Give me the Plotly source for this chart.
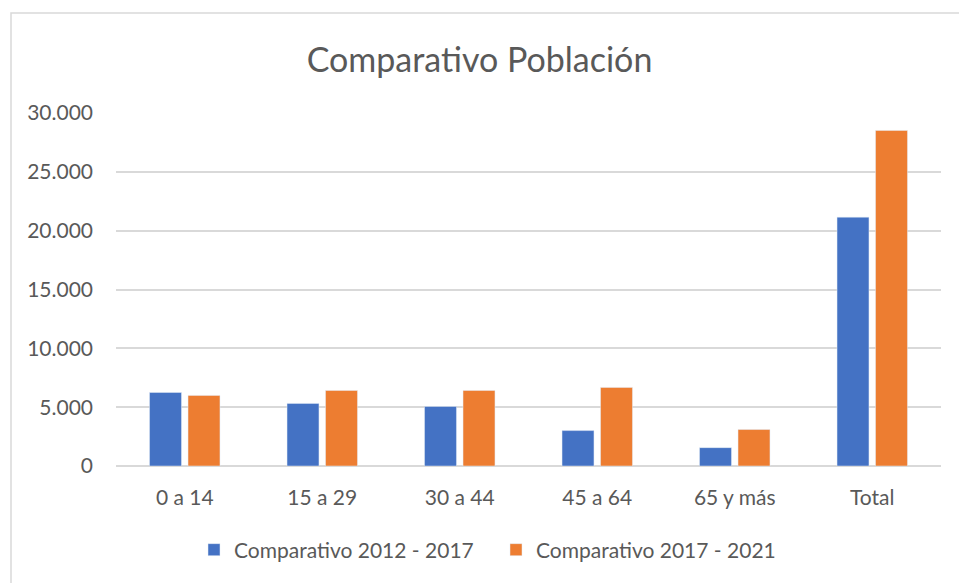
import plotly.graph_objects as go

categories = ["0 a 14", "15 a 29", "30 a 44", "45 a 64", "65 y más", "Total"]
serie_2012_2017 = [6250, 5320, 5060, 3010, 1560, 21150]
serie_2017_2021 = [6000, 6420, 6420, 6680, 3100, 28520]
tick_vals = [0, 5000, 10000, 15000, 20000, 25000, 30000]
tick_text = ["0", "5.000", "10.000", "15.000", "20.000", "25.000", "30.000"]

FONT = "Lato"
GRAY = "#595959"

fig = go.Figure()
fig.add_trace(go.Bar(x=categories, y=serie_2012_2017, name="Comparativo 2012 - 2017",
                     marker_color="#4472C4"))
fig.add_trace(go.Bar(x=categories, y=serie_2017_2021, name="Comparativo 2017 - 2021",
                     marker_color="#ED7D31"))

L, R, T, B = 116, 18, 113, 117
W, H = 959, 583
pw = W - L - R
ph = H - T - B

fig.update_layout(
    width=W, height=H,
    margin=dict(l=L, r=R, t=T, b=B),
    paper_bgcolor="white", plot_bgcolor="white",
    barmode="group", bargap=0.44, bargroupgap=0.17,
    title=dict(text="Comparativo Población", x=0.5, xanchor="center",
               y=1 - 60 / H, yanchor="middle",
               font=dict(family=FONT, size=34, color=GRAY)),
    font=dict(family=FONT, color=GRAY, size=21),
    showlegend=True,
    legend=dict(orientation="h", x=(194 - L) / pw, xanchor="left",
                y=-(550 - (H - B)) / ph,
                yanchor="middle", font=dict(family=FONT, size=21, color=GRAY),
                itemwidth=30, traceorder="normal",
                entrywidth=257, entrywidthmode="pixels"),
    shapes=[dict(type="rect", xref="paper", yref="paper",
                 x0=(11 - L) / pw, x1=(W + 5 - L) / pw,
                 y0=-(H + 5 - (H - B)) / ph, y1=((H - B) - 13) / ph,
                 line=dict(color="#D9D9D9", width=1.5), layer="below")],
)
fig.update_yaxes(range=[0, 30000], tickvals=tick_vals, ticktext=tick_text,
                 showgrid=True, gridcolor="#D9D9D9", gridwidth=1.5,
                 zeroline=True, zerolinecolor="#D9D9D9", zerolinewidth=1.5,
                 showline=False, ticks="", ticklabelstandoff=22,
                 tickfont=dict(family=FONT, size=21, color=GRAY))
fig.update_xaxes(showgrid=False, showline=False, ticks="",
                 tickfont=dict(family=FONT, size=21, color=GRAY),
                 ticklabelstandoff=17)

fig.write_html("out.html", config={"displayModeBar": False},
               post_script="document.body.style.margin='0';document.body.style.overflow='hidden';")
